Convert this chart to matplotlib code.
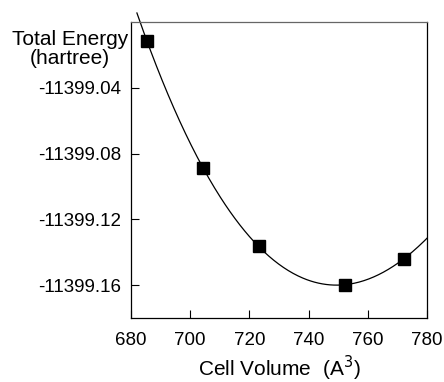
import numpy as np
import matplotlib
matplotlib.use("Agg")
import matplotlib.pyplot as plt

plt.rcParams['font.family'] = ['Liberation Sans', 'DejaVu Sans']

volume = [685.4, 704.3, 723.1, 752.3, 772.1]
energy = [-11399.0115, -11399.089, -11399.136, -11399.160, -11399.144]
xticks = [680, 700, 720, 740, 760, 780]
yticks = [-11399.04, -11399.08, -11399.12, -11399.16]

fig = plt.figure(figsize=(4.44, 3.82), dpi=100)
ax = fig.add_axes([131/444, 1-318/382, (427-131)/444, (318-22)/382])

coef = np.polyfit(volume, energy, 3)
xf = np.linspace(682.0, 780, 300)
ax.plot(xf, np.polyval(coef, xf), color='black', lw=0.9, clip_on=False)
ax.plot(volume, energy, 's', color='black', ms=8.5, clip_on=False, zorder=3)

ax.set_xlim(680, 780)
ax.set_ylim(-11399.18, -11399.00)
ax.set_xticks(xticks)
ax.set_xticklabels([str(t) for t in xticks])
ax.set_yticks(yticks)
ax.set_yticklabels(['%.2f' % t for t in yticks])
ax.tick_params(direction='in', length=6, width=0.8, labelsize=13.5)
ax.tick_params(axis='x', pad=10)
ax.tick_params(axis='y', pad=7)
for s in ax.spines.values():
    s.set_linewidth(0.9)
ax.spines['top'].set_color('#666666')

fig.text(70/444, 1-49/382, 'Total Energy\n(hartree)', ha='center', va='center',
         fontsize=15, linespacing=1.05)
fig.text(279/444, 1-376/382, 'Cell Volume  (A$^3$)', ha='center', va='baseline', fontsize=15)

fig.savefig('out.png', dpi=100)
